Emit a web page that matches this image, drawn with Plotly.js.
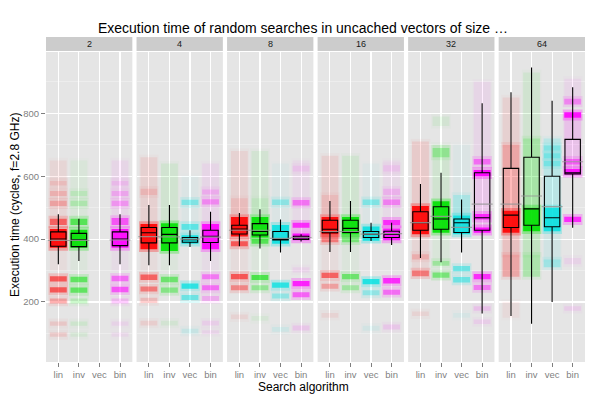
<!DOCTYPE html>
<html>
<head>
<meta charset="utf-8">
<script src="https://cdn.plot.ly/plotly-3.0.1.min.js"></script>
<style>html,body{margin:0;padding:0;background:#fff}#chart{width:600px;height:400px}</style>
</head>
<body>
<div id="chart"></div>
<script>
// ---------- data ----------
const categories = ['lin', 'inv', 'vec', 'bin'];
const sizes = ['2', '4', '8', '16', '32', '64'];
const yTicks = [200, 400, 600, 800];

// box statistics: [facet][category]  (null = no data)
const lowerWhisker = [
  [320, 330, null, 320],
  [317, 317, 375, 330],
  [377, 370, 357, 392],
  [359, 359, 394, 381],
  [340, 326, 357, 163],
  [155, 131, 200, 436]
];
const q1 = [
  [377, 376, null, 379],
  [388, 388, 390, 389],
  [416, 413, 397, 399],
  [420, 421, 405, 405],
  [428, 431, 421, 428],
  [437, 444, 439, 607]
];
const median = [
  [400, 398, null, 400],
  [420, 415, 398, 409],
  [432, 424, 399, 404],
  [431, 434, 415, 415],
  [452, 464, 452, 468],
  [476, 496, 468, 611]
];
const q3 = [
  [423, 418, null, 423],
  [437, 437, 405, 428],
  [444, 449, 424, 409],
  [460, 460, 424, 425],
  [487, 503, 464, 611],
  [625, 660, 600, 717]
];
const upperWhisker = [
  [479, 465, null, 479],
  [508, 508, 428, 487],
  [483, 495, 462, 415],
  [521, 521, 452, 452],
  [575, 611, 526, 832],
  [867, 946, 840, 883]
];
const meanVals = [
  [396, 396, null, 397],
  [408, 407, 400, 406],
  [428, 428, 402, 405],
  [424, 424, 416, 417],
  [452, 472, 437, 511],
  [511, 537, 503, 646]
];

// density of the jittered points: [facet] -> list of [low, high, intensity]
const densLin = [
  [[465,650,0.05],[300,372,0.03],[372,432,0.9],[445,465,0.5],[505,522,0.2],[537,553,0.14],[570,585,0.09],[265,282,0.55],[230,247,0.55],[195,211,0.25],[124,138,0.1],[89,103,0.1]],
  [[448,660,0.07],[300,368,0.03],[368,448,0.9],[540,560,0.1],[270,287,0.5],[233,249,0.4],[197,213,0.15],[125,140,0.08]],
  [[470,680,0.06],[480,530,0.08],[300,377,0.03],[408,470,0.9],[377,393,0.55],[272,289,0.55],[237,253,0.35],[145,160,0.06]],
  [[470,665,0.07],[480,540,0.08],[300,390,0.03],[415,470,0.9],[390,415,0.4],[276,293,0.5],[242,258,0.25],[150,165,0.06]],
  [[505,710,0.09],[300,415,0.05],[415,505,0.9],[335,352,0.15],[282,300,0.4],[155,170,0.06]],
  [[700,850,0.07],[490,700,0.22],[350,420,0.12],[420,490,0.9],[280,350,0.22],[150,200,0.04]]
];
const densInv = [
  [[465,650,0.04],[300,372,0.03],[372,430,0.9],[445,465,0.55],[505,522,0.16],[537,553,0.11],[263,280,0.5],[229,246,0.5],[195,211,0.16],[124,138,0.08],[89,103,0.06]],
  [[450,640,0.07],[300,362,0.03],[362,450,0.9],[263,280,0.45],[229,246,0.35],[125,140,0.06]],
  [[470,680,0.06],[480,530,0.07],[300,385,0.03],[405,470,0.9],[385,400,0.55],[270,286,0.6],[237,253,0.3],[140,155,0.05]],
  [[470,665,0.07],[300,390,0.03],[415,470,0.9],[390,415,0.4],[272,289,0.45],[237,253,0.25]],
  [[520,700,0.07],[330,420,0.04],[420,520,0.9],[660,690,0.25],[760,790,0.06],[315,330,0.25],[277,294,0.4]],
  [[720,930,0.07],[500,720,0.22],[350,425,0.12],[425,500,0.9],[280,350,0.2]]
];
const densVec = [
  [],
  [[412,600,0.03],[385,412,0.85],[430,448,0.5],[508,525,0.35],[242,259,0.75],[206,222,0.45],[100,115,0.1]],
  [[445,640,0.03],[385,445,0.85],[508,526,0.3],[245,262,0.75],[211,227,0.3],[105,120,0.08]],
  [[440,640,0.03],[395,440,0.85],[508,526,0.35],[256,273,0.8],[221,237,0.3],[108,124,0.06]],
  [[540,700,0.03],[415,475,0.85],[475,540,0.2],[298,314,0.45],[262,279,0.45],[150,165,0.05]],
  [[500,720,0.15],[335,425,0.07],[425,500,0.85],[632,648,0.3],[657,673,0.3],[682,698,0.25],[310,335,0.25]]
];
const densBin = [
  [[465,650,0.05],[300,372,0.03],[372,432,0.9],[445,467,0.55],[505,522,0.25],[537,553,0.18],[570,585,0.1],[266,283,0.45],[231,248,0.55],[195,211,0.16],[124,138,0.06],[89,103,0.05]],
  [[448,640,0.05],[300,368,0.03],[368,448,0.9],[510,527,0.3],[542,558,0.16],[272,288,0.4],[237,253,0.45],[203,219,0.2],[125,140,0.08],[98,110,0.06]],
  [[452,650,0.04],[396,418,0.9],[436,452,0.75],[507,524,0.4],[615,633,0.08],[250,267,0.8],[215,231,0.5],[294,310,0.06],[109,125,0.1]],
  [[461,650,0.04],[396,434,0.85],[444,461,0.75],[508,526,0.35],[540,560,0.15],[615,635,0.08],[259,276,0.75],[223,239,0.45],[112,128,0.1]],
  [[437,600,0.1],[655,900,0.05],[600,620,0.95],[637,655,0.45],[420,437,0.9],[462,480,0.75],[272,289,0.75],[238,254,0.4],[172,186,0.12],[130,144,0.08]],
  [[623,786,0.12],[846,910,0.05],[786,803,0.9],[828,846,0.35],[605,623,0.9],[637,655,0.45],[454,471,0.75],[320,340,0.06],[172,186,0.08]]
];

// ---------- styling / layout ----------
const dens = [densLin, densInv, densVec, densBin];
const rgb = [[255,0,0],[0,225,0],[0,225,225],[255,0,255]];
const FONT = 'Liberation Sans, Arial, Helvetica, sans-serif';
const W = 600, H = 400;
const mL = 46, mR = 15, mT = 52, mB = 38;
const plotW = W - mL - mR, plotH = H - mT - mB;
const gapPx = 4.2;
const panelPx = (plotW - 5 * gapPx) / 6;
const halo = 9;   // soft edge of the jittered dots, in y units

const traces = [];
const layout = {
  width: W, height: H,
  margin: {l: mL, r: mR, t: mT, b: mB, pad: 0},
  paper_bgcolor: '#ffffff',
  plot_bgcolor: '#e5e5e5',
  barmode: 'overlay',
  showlegend: false,
  font: {family: FONT, size: 10, color: '#000'},
  shapes: [],
  annotations: [],
  title: {
    text: 'Execution time of random searches in uncached vectors of size …',
    font: {family: FONT, size: 14, color: '#000'},
    x: 303 / W, xref: 'container', xanchor: 'center',
    y: 1 - 28 / H, yref: 'container', yanchor: 'middle'
  },
  yaxis: {
    range: [9, 995],
    tickvals: yTicks,
    ticktext: yTicks.map(String),
    showgrid: true, gridcolor: '#ffffff', gridwidth: 1.1,
    minor: {tickvals: [100, 300, 500, 700, 900], showgrid: true, gridcolor: '#f2f2f2', gridwidth: 0.6, ticks: ''},
    zeroline: false, showline: false,
    ticks: 'outside', ticklen: 4, tickwidth: 1, tickcolor: '#7f7f7f',
    tickfont: {family: FONT, size: 9.5, color: '#7f7f7f'},
    anchor: 'x', fixedrange: true
  }
};

sizes.forEach((sz, f) => {
  const ax = f === 0 ? 'x' : 'x' + (f + 1);
  const axKey = f === 0 ? 'xaxis' : 'xaxis' + (f + 1);
  const d0 = (f * (panelPx + gapPx)) / plotW;
  const d1 = (f * (panelPx + gapPx) + panelPx) / plotW;
  layout[axKey] = {
    domain: [d0, d1],
    range: [0.4, 4.6],
    tickvals: categories.map((c, i) => i + 1),
    ticktext: categories,
    showgrid: true, gridcolor: '#ffffff', gridwidth: 1.1,
    zeroline: false, showline: false,
    ticks: 'outside', ticklen: 4, tickwidth: 1, tickcolor: '#7f7f7f',
    tickfont: {family: FONT, size: 9.5, color: '#7f7f7f'},
    anchor: 'y', fixedrange: true
  };

  // jittered point clouds (soft halo + core)
  categories.forEach((cat, ci) => {
    const segs = dens[ci][f];
    if (!segs.length) return;
    const c = rgb[ci];
    traces.push({
      type: 'bar', xaxis: ax, yaxis: 'y',
      x: segs.map(() => ci + 1),
      base: segs.map(s => s[0] - halo),
      y: segs.map(s => s[1] - s[0] + 2 * halo),
      width: 0.96,
      marker: {color: segs.map(s => `rgba(${c[0]},${c[1]},${c[2]},${(s[2] * 0.3).toFixed(3)})`), line: {width: 0}},
      hoverinfo: 'skip', showlegend: false
    });
    traces.push({
      type: 'bar', xaxis: ax, yaxis: 'y',
      x: segs.map(() => ci + 1),
      base: segs.map(s => s[0]),
      y: segs.map(s => s[1] - s[0]),
      width: 0.82,
      marker: {color: segs.map(s => `rgba(${c[0]},${c[1]},${c[2]},${s[2]})`), line: {width: 0}},
      hoverinfo: 'skip', showlegend: false
    });
  });

  // box plots
  const idx = categories.map((c, i) => i).filter(i => median[f][i] !== null);
  traces.push({
    type: 'box', xaxis: ax, yaxis: 'y',
    x: idx.map(i => i + 1),
    q1: idx.map(i => q1[f][i]),
    median: idx.map(i => median[f][i]),
    q3: idx.map(i => q3[f][i]),
    lowerfence: idx.map(i => lowerWhisker[f][i]),
    upperfence: idx.map(i => upperWhisker[f][i]),
    boxpoints: false,
    width: 0.75,
    whiskerwidth: 0,
    fillcolor: 'rgba(0,0,0,0)',
    line: {color: '#000000', width: 1.1},
    hoverinfo: 'skip', showlegend: false
  });

  // grey mean markers
  traces.push({
    type: 'scatter', mode: 'markers', xaxis: ax, yaxis: 'y',
    x: idx.map(i => i + 1),
    y: idx.map(i => meanVals[f][i]),
    marker: {symbol: 'line-ew', size: 15, line: {color: 'rgba(150,150,150,0.85)', width: 1.2}},
    hoverinfo: 'skip', showlegend: false
  });

  // facet strip
  layout.shapes.push({
    type: 'rect', xref: ax + ' domain', yref: 'paper',
    x0: 0, x1: 1, y0: 1 + 1 / plotH, y1: 1 + 15 / plotH,
    fillcolor: '#cccccc', line: {width: 0}, layer: 'below'
  });
  layout.annotations.push({
    text: sz, xref: ax + ' domain', yref: 'paper',
    x: 0.5, y: 1 + 8 / plotH, xanchor: 'center', yanchor: 'middle',
    showarrow: false, font: {family: FONT, size: 9, color: '#1a1a1a'}
  });
});

layout.annotations.push({
  text: 'Search algorithm', xref: 'paper', yref: 'paper',
  x: (303 - mL) / plotW, y: -(387 - (H - mB)) / plotH,
  xanchor: 'center', yanchor: 'middle', showarrow: false,
  font: {family: FONT, size: 12, color: '#000'}
});
layout.annotations.push({
  text: 'Execution time (cycles, f=2.8 GHz)', xref: 'paper', yref: 'paper',
  x: (15 - mL) / plotW, y: ((H - mB) - 205) / plotH,
  xanchor: 'center', yanchor: 'middle', textangle: -90, showarrow: false,
  font: {family: FONT, size: 12, color: '#000'}
});

Plotly.newPlot('chart', traces, layout, {staticPlot: true, displayModeBar: false});
</script>
</body>
</html>
